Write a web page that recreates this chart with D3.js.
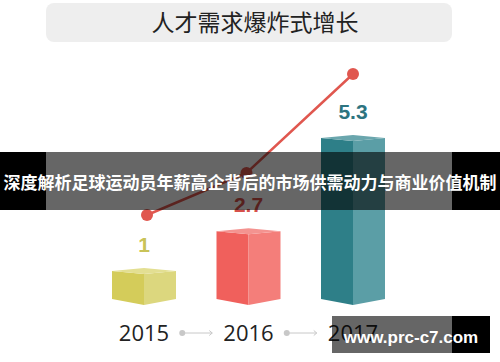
<!DOCTYPE html>
<html><head><meta charset="utf-8">
<script src="https://cdn.jsdelivr.net/npm/d3@7/dist/d3.min.js"></script>
<style>html,body{margin:0;padding:0;background:#fff;}svg{display:block;}</style>
</head><body>
<script>
const title = "人才需求爆炸式增长";
const overlayText = "深度解析足球运动员年薪高企背后的市场供需动力与商业价值机制";
const watermark = "www.prc-c7.com";
const years = ["2015", "2016", "2017"];
const values = [1, 2.7, 5.3];
const valueLabels = ["1", "2.7", "5.3"];
const leftColors = ["#d4cc5a", "#f0605c", "#2e7f88"];
const rightColors = ["#dcd77e", "#f47e7a", "#5b9ea6"];
const topColors = ["#e3df92", "#f49390", "#6aa6ad"];
const labelColors = ["#c9c358", "#d6504a", "#2d7480"];
const lineColor = "#e0574f";

const W = 500, H = 362;
const svg = d3.select("body").append("svg").attr("width", W).attr("height", H);

const x = d3.scalePoint().domain(years).range([144, 353]);
const hScale = d3.scalePow().exponent(1.55).domain([1, 5.3]).range([31, 164]);
const yLine = d3.scalePow().exponent(1.55).domain([1, 5.3]).range([215, 74]);
const base = 305, hw = 32;

// title box
svg.append("rect").attr("x", 46).attr("y", 3).attr("width", 406).attr("height", 39)
  .attr("rx", 8).attr("fill", "#eeeeee");
svg.append("text").attr("x", 255).attr("y", 31).attr("text-anchor", "middle")
  .attr("font-family", "Noto Sans CJK SC").attr("font-size", 23).attr("fill", "#222")
  .text(title);

// bars
const data = years.map((y, i) => ({year: y, v: values[i], i}));
const g = svg.append("g");
data.forEach(d => {
  const cx = x(d.year);
  const ft = base - hScale(d.v);
  const pts = a => a.map(p => p.join(",")).join(" ");
  g.append("polygon").attr("fill", leftColors[d.i])
    .attr("points", pts([[cx - hw, ft - 3], [cx, ft], [cx, base], [cx - hw, base - 6]]));
  g.append("polygon").attr("fill", rightColors[d.i])
    .attr("points", pts([[cx, ft], [cx + hw, ft - 3], [cx + hw, base - 6], [cx, base]]));
  g.append("polygon").attr("fill", topColors[d.i])
    .attr("points", pts([[cx - hw, ft - 3], [cx, ft - 6], [cx + hw, ft - 3], [cx, ft]]));
  g.append("text").attr("x", cx).attr("y", ft - 6 - 16)
    .attr("text-anchor", "middle").attr("font-family", "Liberation Sans")
    .attr("font-weight", "bold").attr("font-size", 21).attr("fill", labelColors[d.i])
    .text(valueLabels[d.i]);
});

// line
const line = d3.line().x(d => x(d.year) + (d.i === 0 ? 3 : d.i === 1 ? -2 : 0)).y(d => yLine(d.v));
svg.append("path").datum(data).attr("d", line).attr("fill", "none")
  .attr("stroke", lineColor).attr("stroke-width", 2.5);
svg.selectAll("circle.pt").data(data).enter().append("circle")
  .attr("cx", d => x(d.year) + (d.i === 0 ? 3 : d.i === 1 ? -2 : 0)).attr("cy", d => yLine(d.v))
  .attr("r", 6).attr("fill", lineColor);

// year labels
svg.selectAll("text.yr").data(years).enter().append("text")
  .attr("x", d => x(d)).attr("y", 341).attr("text-anchor", "middle")
  .attr("font-family", "Open Sans").attr("font-size", 22).attr("fill", "#222").text(d => d);

// arrows
for (let i = 0; i < years.length - 1; i++) {
  const m = (x(years[i]) + x(years[i + 1])) / 2;
  const ay = 333;
  svg.append("circle").attr("cx", m - 14).attr("cy", ay).attr("r", 3).attr("fill", "#c8c8c8");
  svg.append("line").attr("x1", m - 14).attr("x2", m + 16).attr("y1", ay).attr("y2", ay)
    .attr("stroke", "#c8c8c8").attr("stroke-width", 1);
  svg.append("path").attr("d", `M${m + 13},${ay - 2.5}L${m + 16},${ay}L${m + 13},${ay + 2.5}`)
    .attr("fill", "none").attr("stroke", "#c8c8c8").attr("stroke-width", 1);
}

// overlay band
svg.append("rect").attr("x", 0).attr("y", 152).attr("width", 46).attr("height", 58).attr("fill", "#000");
svg.append("rect").attr("x", 452).attr("y", 152).attr("width", 48).attr("height", 58).attr("fill", "#000");
svg.append("rect").attr("x", 46).attr("y", 152).attr("width", 406).attr("height", 58).attr("fill", "rgba(0,0,0,0.6)");
svg.append("text").attr("x", 250).attr("y", 189).attr("text-anchor", "middle")
  .attr("font-family", "Noto Sans CJK SC").attr("font-weight", "bold").attr("font-size", 17)
  .attr("fill", "#fff").text(overlayText);

// watermark
svg.append("rect").attr("x", 332).attr("y", 316).attr("width", 120).attr("height", 37).attr("fill", "rgba(0,0,0,0.6)");
svg.append("rect").attr("x", 452).attr("y", 316).attr("width", 38).attr("height", 37).attr("fill", "#000");
svg.append("text").attr("x", 411).attr("y", 343).attr("text-anchor", "middle")
  .attr("font-family", "Liberation Sans").attr("font-weight", "bold").attr("font-size", 17)
  .attr("fill", "#fff").text(watermark);
</script>
</body></html>
